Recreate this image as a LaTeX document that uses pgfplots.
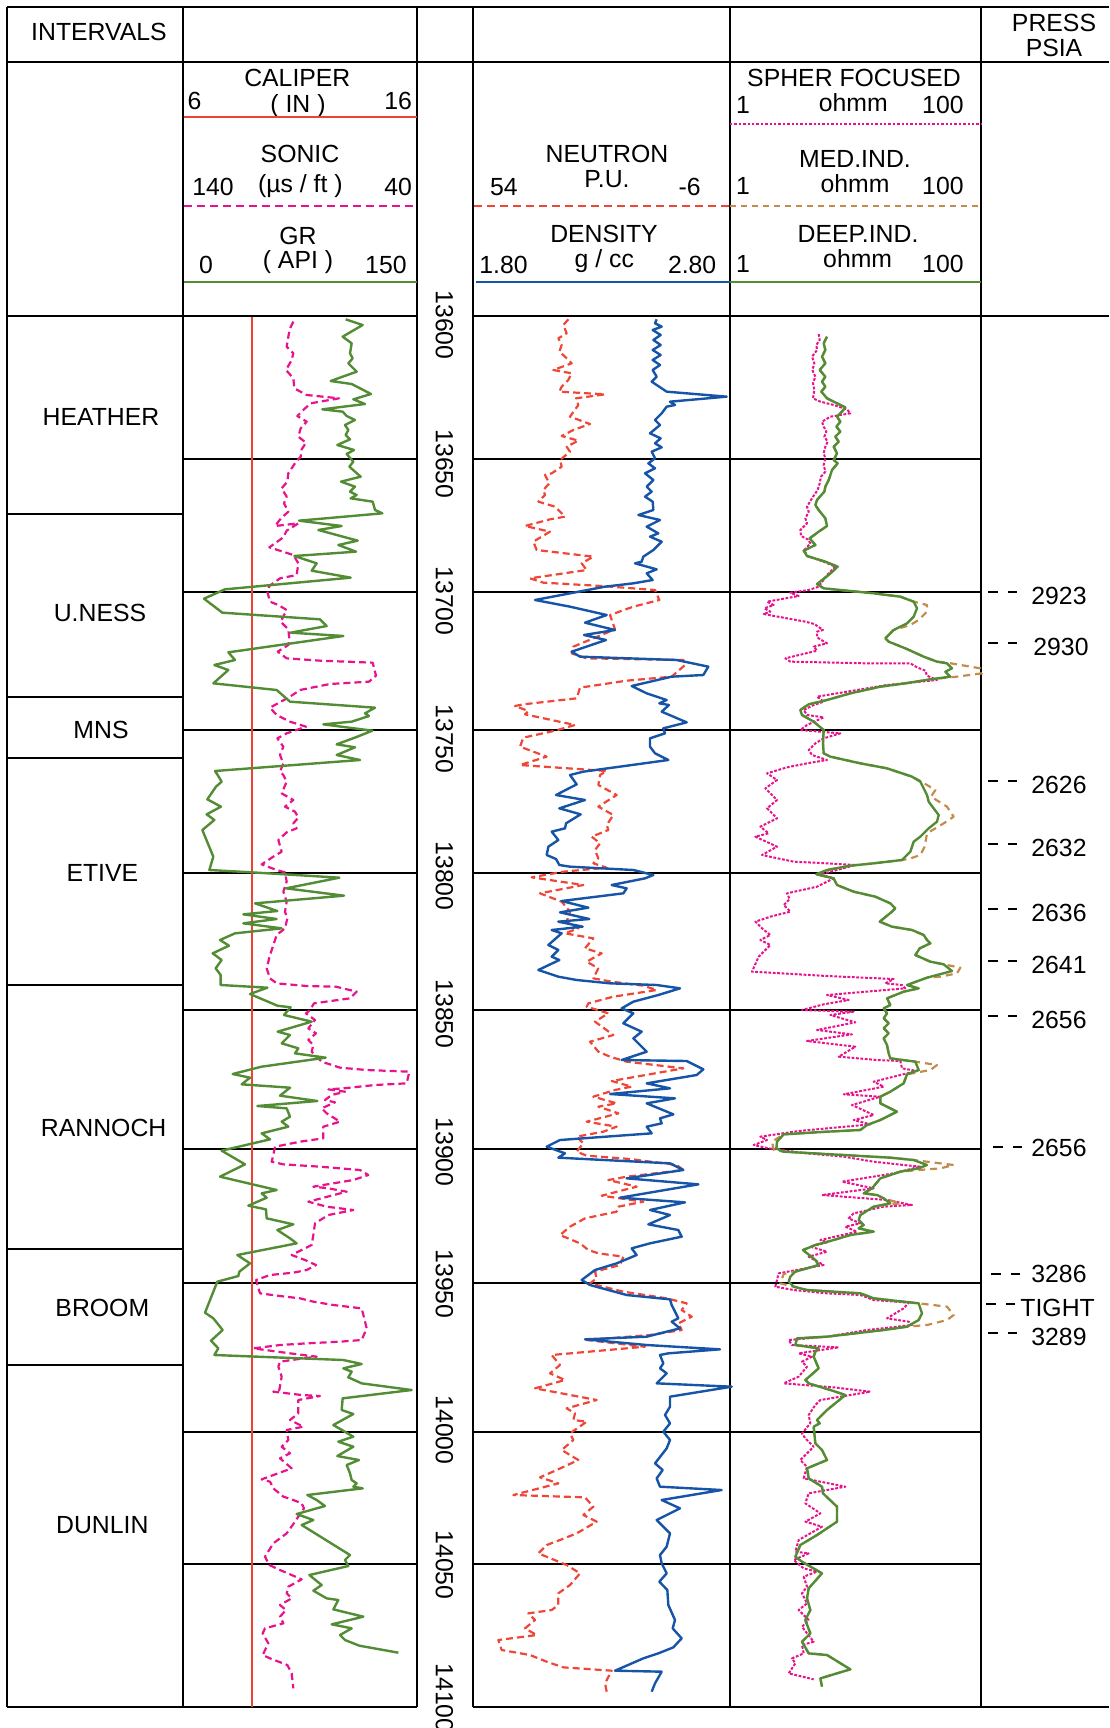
\documentclass[border=0pt]{standalone}
\usepackage{fontspec}
\setmainfont{Liberation Sans}
\usepackage{pgfplots}
\pgfplotsset{compat=1.18}
\definecolor{calred}{RGB}{238,66,50}
\definecolor{neured}{RGB}{240,70,55}
\definecolor{grgreen}{RGB}{82,140,52}
\definecolor{sonpink}{RGB}{232,18,140}
\definecolor{denblue}{RGB}{22,84,168}
\definecolor{medbrown}{RGB}{196,140,76}
\newcommand{\fs}{\fontsize{12.4}{14}\selectfont}
\newcommand{\dd}{\rule[0.3em]{0.38em}{0.08em}\hspace{0.42em}\rule[0.3em]{0.38em}{0.08em}}
\begin{document}
\begin{tikzpicture}
\useasboundingbox (0,0) rectangle (554.5pt,864pt);
\begin{axis}[at={(0,0)}, anchor=south west, scale only axis, width=554.5pt, height=864pt,
  xmin=0, xmax=3327, ymin=0, ymax=5184, y dir=reverse, hide axis, clip=false, no markers,
  every axis plot/.append style={line join=round}]
% ---------- frame ----------
\draw[line width=1pt] (21,21) -- (3327,21);
\draw[line width=1pt] (21,186) -- (3327,186);
\draw[line width=1pt] (21,948) -- (1250,948);
\draw[line width=1pt] (1419,948) -- (3327,948);
\draw[line width=1pt] (21,5121) -- (1250,5121);
\draw[line width=1pt] (1419,5121) -- (3327,5121);
\pgfplotsinvokeforeach{21,549,1250,1419,2189,2944}{\draw[line width=1pt] (#1,21) -- (#1,5121);}
\pgfplotsinvokeforeach{1542,2091,2274,2955,3747,4095}{\draw[line width=1pt] (21,#1) -- (549,#1);}
\pgfplotsinvokeforeach{1377,1776,2190,2619,3030,3448,3850,4297,4692}{
  \draw[line width=1pt] (549,#1) -- (1250,#1);
  \draw[line width=1pt] (1419,#1) -- (2944,#1);}
% ---------- header ----------
\node[anchor=base,font=\fs] at (297,122) {INTERVALS};
\node[anchor=base,font=\fs] at (3162,96) {PRESS};
\node[anchor=base,font=\fs] at (3162,171) {PSIA};
\node[anchor=base,font=\fs] at (892,261) {CALIPER};
\node[anchor=base,font=\fs] at (894,339) {( IN )};
\node[anchor=base west,font=\fs,inner sep=0pt] at (562,330) {6};
\node[anchor=base east,font=\fs,inner sep=0pt] at (1237,330) {16};
\draw[calred,line width=1.1pt] (552,351) -- (1250,351);
\node[anchor=base,font=\fs] at (900,489) {SONIC};
\node[anchor=base,font=\fs] at (901,579) {(µs / ft )};
\node[anchor=base west,font=\fs,inner sep=0pt] at (576,588) {140};
\node[anchor=base east,font=\fs,inner sep=0pt] at (1237,588) {40};
\draw[sonpink,line width=1.1pt,dash pattern=on 4pt off 2.5pt] (552,618) -- (1250,618);
\node[anchor=base,font=\fs] at (894,735) {GR};
\node[anchor=base,font=\fs] at (894,807) {( API )};
\node[anchor=base,font=\fs] at (618,822) {0};
\node[anchor=base east,font=\fs,inner sep=0pt] at (1221,822) {150};
\draw[grgreen,line width=1.1pt] (552,846) -- (1250,846);
\node[anchor=base,font=\fs] at (1821,489) {NEUTRON};
\node[anchor=base,font=\fs] at (1821,564) {P.U.};
\node[anchor=base west,font=\fs,inner sep=0pt] at (1469,588) {54};
\node[anchor=base east,font=\fs,inner sep=0pt] at (2103,588) {-6};
\draw[neured,line width=1.1pt,dash pattern=on 4pt off 2.5pt] (1422,618) -- (2189,618);
\node[anchor=base,font=\fs] at (1812,729) {DENSITY};
\node[anchor=base,font=\fs] at (1813,804) {g / cc};
\node[anchor=base west,font=\fs,inner sep=0pt] at (1437,822) {1.80};
\node[anchor=base east,font=\fs,inner sep=0pt] at (2150,822) {2.80};
\draw[denblue,line width=1.1pt] (1428,846) -- (2189,846);
\node[anchor=base,font=\fs] at (2562,261) {SPHER FOCUSED};
\node[anchor=base west,font=\fs,inner sep=0pt] at (2207,342) {1};
\node[anchor=base,font=\fs] at (2560,336) {ohmm};
\node[anchor=base east,font=\fs,inner sep=0pt] at (2892,342) {100};
\draw[sonpink,line width=1.1pt,dash pattern=on 1.2pt off 1pt] (2190,372) -- (2944,372);
\node[anchor=base,font=\fs] at (2565,504) {MED.IND.};
\node[anchor=base west,font=\fs,inner sep=0pt] at (2207,585) {1};
\node[anchor=base,font=\fs] at (2565,579) {ohmm};
\node[anchor=base east,font=\fs,inner sep=0pt] at (2892,585) {100};
\draw[medbrown,line width=1.1pt,dash pattern=on 3pt off 2.5pt] (2190,618) -- (2944,618);
\node[anchor=base,font=\fs] at (2574,729) {DEEP.IND.};
\node[anchor=base west,font=\fs,inner sep=0pt] at (2207,819) {1};
\node[anchor=base,font=\fs] at (2573,804) {ohmm};
\node[anchor=base east,font=\fs,inner sep=0pt] at (2892,819) {100};
\draw[grgreen,line width=1.1pt] (2190,846) -- (2944,846);
% ---------- intervals ----------
\node[font=\fs] at (303,1251) {HEATHER};
\node[font=\fs] at (300,1839) {U.NESS};
\node[font=\fs] at (303,2190) {MNS};
\node[font=\fs] at (307,2619) {ETIVE};
\node[font=\fs] at (311,3384) {RANNOCH};
\node[font=\fs] at (307,3925) {BROOM};
\node[font=\fs] at (307,4575) {DUNLIN};
% ---------- depth labels ----------
\node[rotate=-90,font=\fs] at (1333,975) {13600};
\node[rotate=-90,font=\fs] at (1333,1392) {13650};
\node[rotate=-90,font=\fs] at (1333,1803) {13700};
\node[rotate=-90,font=\fs] at (1333,2217) {13750};
\node[rotate=-90,font=\fs] at (1333,2628) {13800};
\node[rotate=-90,font=\fs] at (1333,3042) {13850};
\node[rotate=-90,font=\fs] at (1333,3456) {13900};
\node[rotate=-90,font=\fs] at (1333,3852) {13950};
\node[rotate=-90,font=\fs] at (1333,4290) {14000};
\node[rotate=-90,font=\fs] at (1333,4695) {14050};
\node[rotate=-90,font=\fs] at (1333,5094) {14100};
% ---------- pressures ----------
\node[anchor=west,font=\fs,inner sep=0pt] at (2963,1788) {\dd};
\node[anchor=west,font=\fs,inner sep=0pt] at (3093,1788) {2923};
\node[anchor=west,font=\fs,inner sep=0pt] at (2963,1941) {\dd};
\node[anchor=west,font=\fs,inner sep=0pt] at (3099,1941) {2930};
\node[anchor=west,font=\fs,inner sep=0pt] at (2963,2355) {\dd};
\node[anchor=west,font=\fs,inner sep=0pt] at (3093,2355) {2626};
\node[anchor=west,font=\fs,inner sep=0pt] at (2963,2544) {\dd};
\node[anchor=west,font=\fs,inner sep=0pt] at (3093,2544) {2632};
\node[anchor=west,font=\fs,inner sep=0pt] at (2963,2739) {\dd};
\node[anchor=west,font=\fs,inner sep=0pt] at (3093,2739) {2636};
\node[anchor=west,font=\fs,inner sep=0pt] at (2963,2895) {\dd};
\node[anchor=west,font=\fs,inner sep=0pt] at (3093,2895) {2641};
\node[anchor=west,font=\fs,inner sep=0pt] at (2963,3060) {\dd};
\node[anchor=west,font=\fs,inner sep=0pt] at (3093,3060) {2656};
\node[anchor=west,font=\fs,inner sep=0pt] at (2978,3452) {\dd};
\node[anchor=west,font=\fs,inner sep=0pt] at (3093,3444) {2656};
\node[anchor=west,font=\fs,inner sep=0pt] at (2972,3832) {\dd};
\node[anchor=west,font=\fs,inner sep=0pt] at (3093,3822) {3286};
\node[anchor=west,font=\fs,inner sep=0pt] at (2957,3924) {\dd};
\node[anchor=west,font=\fs,inner sep=0pt] at (3060,3924) {TIGHT};
\node[anchor=west,font=\fs,inner sep=0pt] at (2963,4011) {\dd};
\node[anchor=west,font=\fs,inner sep=0pt] at (3093,4011) {3289};
% ---------- caliper ----------
\addplot[calred,line width=1.1pt] coordinates {(755,950) (755,5120)};
% ---------- sonic ----------
\addplot[sonpink,line width=1.1pt,dash pattern=on 3.5pt off 2pt] coordinates {
(880,965) (870,985) (865,1010) (860,1040) (880,1060) (875,1080) (858,1110) (880,1135) (883,1165) (920,1185) (1017,1195) (932,1210) (912,1228) (892,1248) (920,1265) (902,1285) (895,1310) (918,1328) (905,1348) (902,1370) (885,1390) (865,1420) (862,1445) (845,1465) (860,1490) (852,1510) (865,1535) (843,1555) (825,1578) (895,1570) (860,1592) (850,1612) (808,1642) (880,1665) (895,1690) (890,1725) (840,1735) (808,1758) (802,1775) (810,1805) (835,1815) (860,1830) (842,1865) (865,1888) (868,1915) (865,1935) (833,1955) (860,1975) (960,1982) (1118,1988) (1128,2027) (1107,2045) (990,2052) (900,2070) (870,2090) (810,2123) (830,2145) (870,2165) (918,2180) (860,2200) (832,2215) (850,2240) (840,2265) (850,2290) (840,2315)
(850,2325) (860,2345) (845,2380) (880,2400) (855,2420) (885,2435) (895,2453) (880,2470) (890,2485) (860,2497) (835,2520) (845,2555) (820,2570) (785,2593) (830,2610) (855,2617) (860,2645) (850,2675) (860,2705) (855,2735) (862,2755) (855,2785) (830,2805) (820,2835) (810,2865) (800,2905) (810,2935) (830,2950) (920,2958) (1008,2960) (1070,2975) (1050,2995) (942,3010) (930,3030) (918,3040) (945,3060) (925,3085) (948,3100) (925,3120) (940,3135) (935,3155) (965,3185) (1020,3203) (1100,3210) (1228,3215) (1220,3250) (1125,3255) (1030,3265) (985,3268) (1035,3275) (995,3285) (975,3300) (1005,3307) (965,3325) (980,3340) (1020,3365) (970,3380) (970,3415) (900,3425) (825,3440) (820,3465) (815,3485) (850,3493) (960,3500) (1080,3510) (1105,3525) (1060,3540) (940,3560) (985,3565) (1040,3575) (925,3605) (980,3620) (1060,3630) (985,3645) (945,3670) (940,3705)
(935,3735) (875,3765) (915,3780) (948,3795) (920,3810) (880,3818) (810,3825) (768,3840) (780,3880) (840,3888) (900,3895) (940,3905) (1000,3915) (1085,3925) (1100,3985) (1085,4020) (1020,4025) (920,4030) (840,4035) (760,4045) (870,4060) (950,4070) (910,4075) (840,4085) (835,4100) (845,4130) (838,4170) (820,4175) (905,4185) (960,4188) (895,4200) (895,4240) (870,4260) (910,4280) (860,4290) (865,4320) (845,4340) (870,4360) (840,4375) (875,4405) (785,4438) (810,4445) (820,4465) (850,4490) (880,4500) (905,4510) (912,4525) (898,4545) (885,4565) (860,4600) (820,4630) (795,4670) (808,4695) (840,4710) (905,4738) (865,4760) (860,4780) (875,4795) (840,4815) (858,4830) (840,4850) (850,4870) (795,4885) (788,4900) (805,4930) (788,4965) (810,4975) (862,4995) (875,5020) (880,5065)};
% ---------- GR ----------
\addplot[grgreen,line width=1.2pt] coordinates {
(1037,958) (1088,975) (1028,1010) (1055,1030) (1050,1060) (1058,1075) (1045,1090) (1070,1115) (992,1143) (1055,1152) (1113,1182) (1060,1198) (1095,1212) (967,1228) (1028,1235) (1040,1248) (1065,1260) (1035,1275) (1045,1290) (1037,1305) (1050,1318) (1012,1335) (1062,1350) (1040,1362) (1060,1385) (1048,1400) (1082,1430) (1023,1445) (1065,1460) (1050,1475) (1070,1485) (1052,1495) (1118,1505) (1125,1530) (1147,1540) (897,1562) (1025,1578) (955,1590) (1073,1622) (1015,1635) (1068,1655) (883,1668) (950,1690) (935,1712) (1052,1733) (675,1768) (612,1796) (667,1838) (960,1858) (980,1878) (872,1898) (1030,1908) (685,1957) (705,1980) (643,1995) (685,2010) (640,2050) (830,2070) (870,2105) (1125,2123) (1095,2140) (1107,2148) (1055,2165) (970,2173) (1117,2192) (1067,2212) (1010,2233) (1065,2242) (1010,2265) (1080,2280) (645,2313)
(653,2325) (665,2345) (648,2360) (622,2398) (663,2420) (620,2443) (643,2460) (607,2490) (640,2570) (628,2610) (755,2617) (1018,2633) (858,2665) (1032,2687) (765,2710) (832,2733) (730,2743) (830,2757) (730,2770) (845,2785) (705,2800) (660,2820) (687,2837) (638,2860) (665,2880) (647,2905) (662,2925) (662,2955) (802,2963) (750,2982) (832,3017) (872,3022) (852,3045) (935,3065) (833,3095) (870,3105) (845,3130) (895,3145) (885,3160) (977,3173) (785,3200) (698,3222) (750,3233) (725,3253) (870,3263) (840,3287) (952,3303) (772,3318) (860,3325) (870,3350) (845,3365) (865,3380) (785,3400) (810,3418) (665,3452) (735,3493) (660,3530) (830,3570) (785,3580) (800,3593) (745,3617) (798,3628) (800,3655) (880,3673) (832,3690) (870,3715)
(890,3730) (712,3765) (750,3790) (718,3815) (715,3828) (652,3845) (615,3938) (640,3955) (668,3990) (633,4022) (655,4045) (643,4065) (1030,4080) (1085,4092) (1030,4105) (1055,4115) (1045,4132) (1085,4150) (1235,4170) (1028,4195) (1025,4230) (1060,4242) (1000,4275) (1060,4310) (1015,4325) (1060,4340) (1012,4368) (1077,4380) (1040,4395) (1050,4420) (1055,4440) (1070,4450) (1060,4460) (1088,4465) (922,4485) (950,4500) (975,4518) (890,4542) (940,4560) (905,4575) (1050,4665) (1035,4680) (1045,4698) (928,4725) (965,4755) (940,4772) (980,4795) (1015,4800) (1000,4828) (1090,4850) (995,4873) (1055,4885) (1020,4905) (1035,4920) (1078,4937) (1195,4958)};
% ---------- neutron ----------
\addplot[neured,line width=1.1pt,dash pattern=on 3.5pt off 2pt] coordinates {
(1705,958) (1690,975) (1700,1000) (1675,1015) (1685,1035) (1678,1055) (1695,1070) (1715,1090) (1660,1110) (1715,1120) (1705,1140) (1685,1160) (1678,1175) (1815,1183) (1728,1195) (1735,1215) (1710,1250) (1770,1272) (1720,1290) (1685,1308) (1735,1322) (1700,1340) (1710,1355) (1680,1380) (1685,1400) (1655,1420) (1635,1425) (1648,1450) (1630,1470) (1635,1485) (1615,1505) (1665,1520) (1695,1550) (1650,1558) (1575,1578) (1650,1595) (1600,1625) (1610,1650) (1780,1670) (1745,1690) (1760,1710) (1590,1735) (1630,1748) (1805,1758) (1965,1770) (1978,1800) (1900,1820) (1830,1845) (1845,1888) (1780,1915) (1720,1940) (1715,1960) (1760,1975) (2050,1980) (2055,1995) (2015,2030) (1880,2042) (1740,2063) (1730,2095) (1570,2113) (1545,2118) (1585,2133) (1575,2143) (1725,2175) (1665,2192) (1570,2213) (1560,2240) (1640,2270) (1560,2295) (1820,2313)
(1800,2325) (1795,2355) (1850,2385) (1795,2420) (1840,2445) (1820,2475) (1825,2490) (1775,2510) (1800,2530) (1785,2550) (1795,2575) (1780,2590) (1820,2603) (1690,2615) (1595,2632) (1750,2655) (1620,2680) (1685,2705) (1710,2735) (1700,2765) (1735,2785) (1695,2800) (1780,2815) (1755,2845) (1805,2860) (1760,2885) (1795,2905) (1780,2935) (1835,2945) (1930,2957) (1970,2970) (1840,2990) (1765,3010) (1760,3020) (1825,3040) (1785,3065) (1840,3105) (1770,3125) (1795,3155) (1830,3170) (1880,3185) (2050,3205) (1835,3243) (1895,3260) (1845,3270) (1780,3290) (1850,3310) (1795,3320) (1855,3340) (1760,3365) (1850,3380) (1810,3395) (1730,3410) (1750,3430) (1730,3455) (1760,3467) (1890,3477) (2030,3495) (2050,3510) (1880,3530) (1825,3540) (1910,3560) (1805,3587) (1930,3605) (1855,3620) (1850,3635) (1755,3655) (1710,3680) (1680,3705) (1740,3730)
(1765,3750) (1795,3760) (1870,3770) (1860,3795) (1785,3815) (1790,3835) (1770,3850) (1870,3875) (2000,3895) (2060,3910) (2045,3930) (2075,3950) (2035,3970) (2045,3990) (1950,4005) (1760,4020) (1935,4040) (1655,4065) (1680,4095) (1650,4120) (1695,4140) (1605,4165) (1790,4200) (1700,4225) (1725,4240) (1720,4260) (1760,4265) (1710,4300) (1720,4320) (1685,4350) (1735,4380) (1670,4410) (1620,4432) (1675,4450) (1540,4485) (1755,4492) (1780,4520) (1750,4545) (1790,4565) (1730,4600) (1685,4618) (1640,4635) (1615,4660) (1700,4695) (1740,4720) (1710,4755) (1675,4780) (1675,4815) (1655,4830) (1585,4840) (1605,4860) (1575,4885) (1610,4905) (1495,4920) (1505,4950) (1590,4965) (1640,4985) (1690,5002) (1835,5012) (1815,5050) (1820,5075)};
% ---------- density ----------
\addplot[denblue,line width=1.2pt] coordinates {
(1970,958) (1965,970) (1985,980) (1958,990) (1982,1005) (1960,1020) (1982,1035) (1958,1050) (1982,1065) (1958,1080) (1980,1095) (1958,1110) (1970,1130) (1955,1145) (2000,1175) (2180,1190) (2010,1205) (2025,1215) (2000,1220) (1985,1240) (1965,1260) (1980,1275) (1950,1300) (1982,1315) (1965,1330) (1985,1342) (1955,1355) (1965,1375) (1945,1390) (1965,1405) (1935,1420) (1960,1440) (1940,1460) (1955,1475) (1935,1490) (1958,1505) (1960,1530) (1915,1545) (1980,1560) (1940,1580) (1975,1600) (1950,1610) (1985,1625) (1960,1650) (1930,1670) (1925,1685) (1905,1690) (1970,1708) (1940,1720) (1958,1740) (1900,1750) (1815,1760) (1605,1800) (1710,1820) (1820,1845) (1755,1868) (1845,1890) (1752,1905) (1818,1920) (1715,1955) (1740,1970) (2030,1980) (2125,2000) (2110,2025) (2015,2030) (1895,2058) (1940,2080) (2000,2100) (1978,2110) (2007,2115) (1985,2135) (2060,2167) (1990,2185) (1995,2200) (1950,2215) (1950,2240) (1965,2260) (2005,2280) (1750,2315)
(1710,2325) (1730,2353) (1668,2385) (1755,2400) (1678,2425) (1742,2443) (1698,2470) (1695,2485) (1655,2495) (1675,2520) (1645,2540) (1640,2565) (1668,2577) (1678,2595) (1710,2600) (1900,2610) (1960,2625) (1935,2635) (1835,2655) (1880,2665) (1870,2680) (1685,2703) (1765,2723) (1680,2737) (1768,2757) (1675,2765) (1748,2780) (1655,2790) (1685,2800) (1645,2835) (1675,2850) (1655,2870) (1678,2880) (1615,2910) (1675,2930) (1730,2940) (1830,2950) (1970,2955) (2040,2965) (1975,2985) (1900,3005) (1865,3025) (1900,3040) (1870,3070) (1925,3095) (1900,3115) (1940,3155) (1865,3180) (2060,3183) (2110,3208) (2090,3225) (1940,3250) (2010,3265) (1830,3282) (2025,3295) (1940,3310) (2020,3343) (1980,3355) (1985,3370) (1940,3380) (1955,3400) (1680,3420) (1640,3440) (1695,3460) (1675,3473) (2010,3490) (2050,3510) (1880,3535) (2095,3553) (1860,3593) (2055,3607) (1950,3630) (2010,3645) (1945,3673) (2035,3690) (2045,3710)
(1950,3730) (1895,3745) (1910,3765) (1850,3790) (1785,3810) (1745,3840) (1770,3855) (1880,3885) (1950,3892) (2010,3898) (2015,3915) (2025,3935) (2035,3955) (2015,3965) (2040,3985) (1940,4010) (1755,4018) (1940,4035) (2160,4048) (2005,4060) (1980,4065) (1990,4090) (1980,4105) (2000,4120) (1980,4140) (1970,4150) (2195,4160) (2010,4190) (2010,4220) (1995,4245) (2010,4270) (1990,4295) (2010,4320) (2000,4345) (1965,4390) (1988,4410) (1970,4435) (1980,4460) (2165,4470) (1985,4500) (2040,4525) (1970,4560) (2010,4600) (2000,4640) (1980,4665) (1985,4690) (2000,4720) (1978,4745) (2002,4770) (2005,4815) (2025,4860) (2018,4885) (2045,4915) (2020,4942) (1975,4960) (1930,4975) (1845,5012) (1985,5015) (1965,5050) (1955,5075)};
% ---------- spher focused ----------
\addplot[sonpink,line width=1pt,dash pattern=on 1.4pt off 0.8pt] coordinates {
(2456,1002) (2459,1020) (2449,1035) (2451,1050) (2436,1070) (2443,1090) (2437,1110) (2446,1130) (2439,1150) (2443,1170) (2439,1195) (2461,1205) (2501,1215) (2541,1228) (2551,1240) (2521,1245) (2491,1250) (2466,1265) (2471,1280) (2479,1295) (2473,1310) (2483,1325) (2476,1340) (2471,1360) (2476,1375) (2471,1395) (2476,1415) (2463,1430) (2459,1450) (2453,1470) (2439,1490) (2421,1520) (2426,1535) (2416,1555) (2421,1570) (2401,1590) (2403,1608) (2423,1618) (2431,1630) (2413,1650) (2421,1668) (2471,1685) (2506,1700) (2481,1725) (2456,1760) (2426,1770) (2371,1778) (2396,1788) (2301,1805) (2321,1815) (2293,1825) (2311,1835) (2291,1842) (2361,1855) (2416,1865) (2443,1872) (2469,1890) (2451,1895) (2451,1912) (2481,1930) (2441,1940) (2451,1952) (2356,1975) (2371,1985) (2601,1990) (2731,1990) (2751,2002) (2776,2012) (2781,2027) (2811,2040) (2661,2055) (2571,2070) (2451,2090) (2471,2105) (2441,2115) (2411,2130) (2421,2145) (2471,2152) (2421,2175) (2401,2190) (2521,2200) (2471,2215) (2446,2230) (2426,2250) (2436,2265) (2481,2280) (2421,2290) (2361,2302) (2301,2320) (2331,2340)
(2296,2365) (2331,2400) (2301,2425) (2331,2455) (2281,2480) (2306,2500) (2266,2510) (2331,2540) (2286,2565) (2381,2585) (2481,2590) (2566,2595) (2511,2610) (2461,2623) (2501,2635) (2451,2660) (2361,2680) (2369,2697) (2351,2715) (2371,2735) (2311,2750) (2266,2765) (2286,2785) (2311,2805) (2281,2820) (2311,2835) (2276,2870) (2256,2915) (2481,2928) (2681,2937) (2656,2950) (2706,2955) (2716,2965) (2481,2985) (2546,3000) (2471,3013) (2406,3030) (2561,3035) (2491,3045) (2566,3067) (2451,3090) (2556,3103) (2421,3123) (2566,3140) (2516,3170) (2631,3180) (2701,3183) (2706,3205) (2751,3213) (2701,3225) (2621,3245) (2651,3260) (2531,3283) (2641,3290) (2556,3315) (2621,3345) (2561,3360) (2611,3373) (2396,3393) (2281,3410) (2301,3420) (2261,3435) (2306,3445) (2421,3460) (2531,3470) (2621,3485) (2711,3495) (2761,3500) (2681,3520) (2526,3545) (2621,3565) (2466,3585) (2661,3600) (2736,3615) (2651,3620) (2561,3640) (2546,3655) (2581,3670) (2536,3680) (2571,3695) (2461,3720)
(2481,3727) (2431,3740) (2481,3755) (2426,3770) (2471,3795) (2336,3820) (2331,3840) (2326,3860) (2381,3870) (2481,3880) (2581,3885) (2621,3900) (2726,3908) (2711,3925) (2661,3955) (2726,3965) (2736,3975) (2601,3990) (2481,4010) (2366,4020) (2376,4035) (2516,4042) (2396,4060) (2436,4070) (2406,4085) (2421,4100) (2396,4130) (2351,4150) (2501,4162) (2611,4175) (2461,4200) (2446,4215) (2426,4245) (2431,4270) (2406,4300) (2416,4315) (2441,4340) (2401,4380) (2421,4400) (2411,4435) (2536,4460) (2426,4480) (2416,4510) (2461,4540) (2416,4565) (2466,4580) (2396,4620) (2386,4655) (2426,4660) (2381,4680) (2411,4705) (2451,4715) (2411,4730) (2421,4760) (2406,4780) (2421,4810) (2396,4830) (2426,4860) (2406,4880) (2421,4900) (2441,4925) (2406,4935) (2411,4960) (2376,4975) (2386,4990) (2366,5020) (2441,5038)};
% ---------- med induction ----------
\addplot[medbrown,line width=1.1pt,dash pattern=on 3.5pt off 2.5pt] coordinates {
(2481,1010) (2471,1030) (2476,1050) (2466,1070) (2476,1090) (2459,1110) (2476,1130) (2466,1145) (2476,1160) (2464,1175) (2481,1195) (2511,1210) (2536,1222) (2526,1235) (2511,1250) (2521,1265) (2509,1280) (2521,1295) (2506,1310) (2516,1325) (2501,1340) (2511,1360) (2501,1380) (2513,1390) (2496,1410) (2491,1425) (2486,1440) (2476,1460) (2473,1475) (2451,1500) (2446,1515) (2456,1530) (2476,1555) (2481,1578) (2456,1595) (2429,1615) (2446,1635) (2411,1652) (2421,1668) (2476,1685) (2513,1700) (2486,1725) (2451,1752) (2471,1765) (2541,1772) (2621,1780) (2701,1790) (2741,1805) (2781,1815) (2781,1835) (2756,1860) (2731,1875) (2681,1890) (2656,1915) (2666,1925) (2716,1945) (2771,1970) (2811,1985) (2841,1988) (2941,2005) (2946,2020) (2871,2030) (2791,2038) (2716,2050) (2641,2060) (2551,2080) (2481,2100) (2426,2113) (2401,2130) (2406,2145) (2441,2165) (2471,2190) (2469,2230) (2471,2260) (2491,2270) (2581,2290) (2661,2305) (2736,2330)
(2761,2343) (2806,2370) (2793,2390) (2841,2420) (2861,2450) (2831,2470) (2781,2500) (2774,2540) (2761,2565) (2726,2577) (2706,2580) (2621,2590) (2551,2597) (2481,2610) (2449,2623) (2501,2635) (2511,2655) (2561,2675) (2626,2690) (2671,2710) (2686,2725) (2676,2735) (2639,2765) (2676,2780) (2736,2790) (2771,2805) (2781,2820) (2791,2830) (2759,2845) (2746,2865) (2791,2885) (2831,2893) (2881,2903) (2871,2920) (2821,2930) (2781,2933) (2721,2955) (2756,2965) (2711,2975) (2661,2995) (2671,3015) (2651,3025) (2661,3040) (2651,3055) (2666,3070) (2651,3085) (2666,3100) (2651,3115) (2661,3135) (2666,3160) (2671,3175) (2746,3185) (2811,3195) (2791,3210) (2721,3223) (2711,3250) (2671,3275) (2641,3290) (2641,3310) (2691,3335) (2641,3360) (2601,3375) (2581,3390) (2481,3395) (2351,3403) (2316,3425) (2321,3450) (2351,3455) (2531,3465) (2671,3473) (2741,3480) (2861,3495) (2821,3505) (2756,3510) (2701,3515) (2641,3535) (2616,3565) (2591,3580) (2631,3585) (2651,3595) (2701,3610) (2621,3620) (2581,3645) (2576,3660) (2591,3675) (2576,3685) (2621,3695) (2551,3705) (2501,3720) (2446,3735)
(2409,3750) (2446,3780) (2456,3795) (2386,3815) (2351,3822) (2341,3850) (2381,3860) (2421,3870) (2581,3880) (2621,3895) (2756,3910) (2841,3920) (2861,3945) (2841,3960) (2781,3975) (2721,3980) (2651,3990) (2481,4010) (2391,4015) (2386,4035) (2456,4045) (2446,4055) (2441,4070) (2456,4105) (2416,4140) (2426,4150) (2491,4170) (2536,4185) (2481,4230) (2451,4260) (2459,4270) (2441,4280) (2446,4330) (2466,4350) (2481,4380) (2421,4405) (2426,4435) (2466,4460) (2469,4480) (2511,4520) (2511,4565) (2451,4605) (2401,4635) (2386,4670) (2406,4685) (2466,4720) (2426,4765) (2421,4795) (2431,4830) (2416,4860) (2431,4900) (2406,4925) (2426,4960) (2481,4965) (2551,5008) (2461,5035) (2466,5060)};
% ---------- deep induction ----------
\addplot[grgreen,line width=1.2pt] coordinates {
(2481,1010) (2471,1030) (2476,1050) (2466,1070) (2476,1090) (2459,1110) (2476,1130) (2466,1145) (2476,1160) (2464,1175) (2481,1195) (2511,1210) (2536,1222) (2526,1235) (2511,1250) (2521,1265) (2509,1280) (2521,1295) (2506,1310) (2516,1325) (2501,1340) (2511,1360) (2501,1380) (2513,1390) (2496,1410) (2491,1425) (2486,1440) (2476,1460) (2473,1475) (2451,1500) (2446,1515) (2456,1530) (2476,1555) (2481,1578) (2456,1595) (2429,1615) (2446,1635) (2411,1652) (2421,1668) (2476,1685) (2513,1700) (2486,1725) (2451,1752) (2471,1765) (2541,1772) (2621,1780) (2701,1790) (2741,1805) (2751,1825) (2741,1850) (2721,1870) (2681,1890) (2656,1915) (2666,1925) (2716,1945) (2771,1970) (2811,1985) (2841,1990) (2856,2005) (2836,2015) (2851,2030) (2791,2038) (2716,2050) (2641,2060) (2551,2080) (2481,2100) (2426,2113) (2401,2130) (2406,2145) (2441,2165) (2471,2190) (2469,2230) (2471,2260) (2491,2270) (2581,2290) (2661,2305) (2736,2330)
(2761,2345) (2781,2385) (2786,2405) (2801,2425) (2816,2445) (2811,2465) (2786,2485) (2761,2510) (2741,2525) (2731,2555) (2706,2580) (2621,2590) (2551,2597) (2481,2610) (2449,2623) (2501,2635) (2511,2655) (2561,2675) (2626,2690) (2671,2710) (2686,2725) (2676,2735) (2639,2765) (2676,2780) (2736,2790) (2771,2805) (2781,2820) (2791,2830) (2759,2845) (2746,2865) (2791,2885) (2831,2893) (2856,2913) (2781,2933) (2721,2955) (2756,2965) (2711,2975) (2661,2995) (2671,3015) (2651,3025) (2661,3040) (2651,3055) (2666,3070) (2651,3085) (2666,3100) (2651,3115) (2661,3135) (2666,3160) (2671,3175) (2746,3185) (2756,3210) (2721,3223) (2711,3250) (2671,3275) (2641,3290) (2641,3310) (2691,3335) (2641,3360) (2601,3375) (2581,3390) (2481,3395) (2351,3403) (2331,3425) (2329,3445) (2351,3455) (2531,3465) (2671,3473) (2741,3480) (2781,3495) (2756,3505) (2701,3515) (2641,3535) (2616,3565) (2591,3580) (2631,3585) (2651,3595) (2671,3610) (2621,3620) (2581,3645) (2576,3660) (2591,3675) (2576,3685) (2621,3695) (2551,3705) (2501,3720) (2446,3735)
(2409,3750) (2446,3780) (2456,3795) (2386,3815) (2371,3830) (2366,3845) (2381,3860) (2421,3870) (2581,3880) (2621,3895) (2756,3910) (2766,3940) (2756,3960) (2721,3980) (2651,3990) (2481,4010) (2391,4015) (2386,4035) (2456,4045) (2446,4055) (2441,4070) (2456,4105) (2416,4140) (2426,4150) (2491,4170) (2536,4185) (2481,4230) (2451,4260) (2459,4270) (2441,4280) (2446,4330) (2466,4350) (2481,4380) (2421,4405) (2426,4435) (2466,4460) (2469,4480) (2511,4520) (2511,4565) (2451,4605) (2401,4635) (2386,4670) (2406,4685) (2466,4720) (2426,4765) (2421,4795) (2431,4830) (2416,4860) (2431,4900) (2406,4925) (2426,4960) (2481,4965) (2551,5008) (2461,5035) (2466,5060)};
\end{axis}
\end{tikzpicture}
\end{document}
